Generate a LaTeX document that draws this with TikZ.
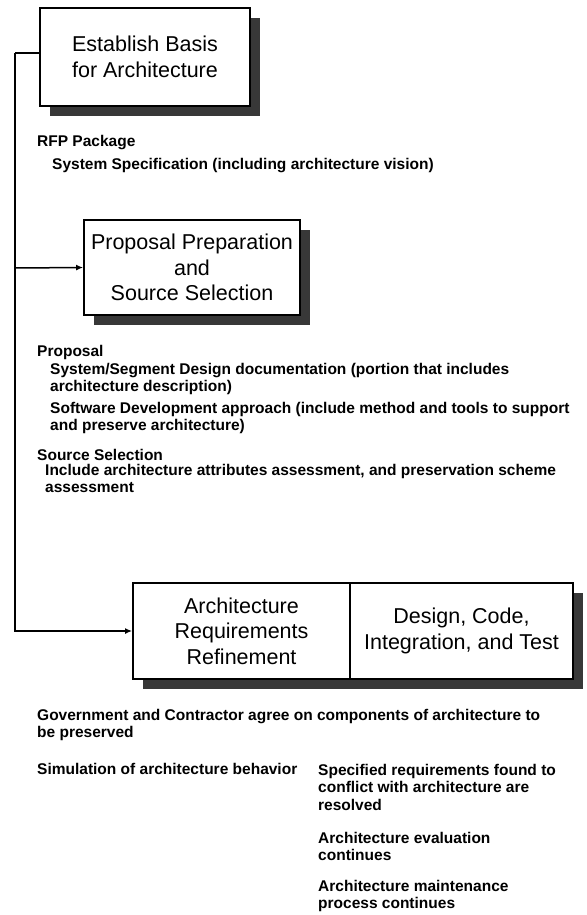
\documentclass[tikz,border=0pt]{standalone}
\usepackage{fontspec}
\setmainfont{Liberation Sans}
\usetikzlibrary{shadows,arrows.meta}
\tikzset{
  procbox/.style={draw=black, line width=1.8pt, fill=white, align=center,
    font=\fontsize{21.5}{25.5}\selectfont, inner sep=0pt,
    drop shadow={shadow xshift=10pt, shadow yshift=-10pt, fill=black!78, opacity=1}},
  head/.style={anchor=west, inner sep=0pt, font=\fontsize{15.5}{18}\selectfont\bfseries},
  body/.style={anchor=north west, inner sep=0pt, align=left, font=\fontsize{15.5}{17.5}\selectfont\bfseries},
  conn/.style={line width=1.5pt},
  arr/.style={conn, -{Latex[length=7pt,width=6pt]}}
}
\begin{document}
\begin{tikzpicture}[x=1pt,y=-1pt]
\useasboundingbox[fill=white] (0,0) rectangle (586,915);

% boxes
\node[procbox, minimum width=210pt, minimum height=98pt] (b1) at (145,57) {Establish Basis\\for Architecture};
\node[procbox, minimum width=216pt, minimum height=95pt] (b2) at (192,267.5) {Proposal Preparation\\and\\Source Selection};
\node[procbox, minimum width=217pt, minimum height=96pt] (b3a) at (241.5,631) {Architecture\\Requirements\\Refinement};
\node[procbox, minimum width=223pt, minimum height=96pt] (b3b) at (461.5,631) {Design, Code,\\Integration, and Test};

% connectors
\coordinate (j1) at (15,53);
\coordinate (j2) at (15,268);
\coordinate (j3) at (15,631);
\draw[conn] (j1) -- (b1.west |- j1);
\draw[arr] (j1) -- (j3) -- (b3a.west);
\draw[arr] (j2) -- (b2.west);

% texts
\node[head] (t1) at (37,143) {RFP Package};
\node[body] (t2) at (52,158) {System Specification (including architecture vision)};

\node[head] (t3) at (37,352) {Proposal};
\node[body] (t4) at (50,363) {System/Segment Design documentation (portion that includes\\architecture description)};
\node[body] (t5) at (50,402) {Software Development approach (include method and tools to support\\and preserve architecture)};

\node[head] (t6) at (37,455) {Source Selection};
\node[body] (t7) at (45,464) {Include architecture attributes assessment, and preservation scheme\\assessment};

\node[body] (t8) at (37,709) {Government and Contractor agree on components of architecture to\\be preserved};
\node[body] (t9) at (37,763) {Simulation of architecture behavior};
\node[body] (t10) at (318,764) {Specified requirements found to\\conflict with architecture are\\resolved};
\node[body] (t11) at (318,832) {Architecture evaluation\\continues};
\node[body] (t12) at (318,880) {Architecture maintenance\\process continues};
\end{tikzpicture}
\end{document}
